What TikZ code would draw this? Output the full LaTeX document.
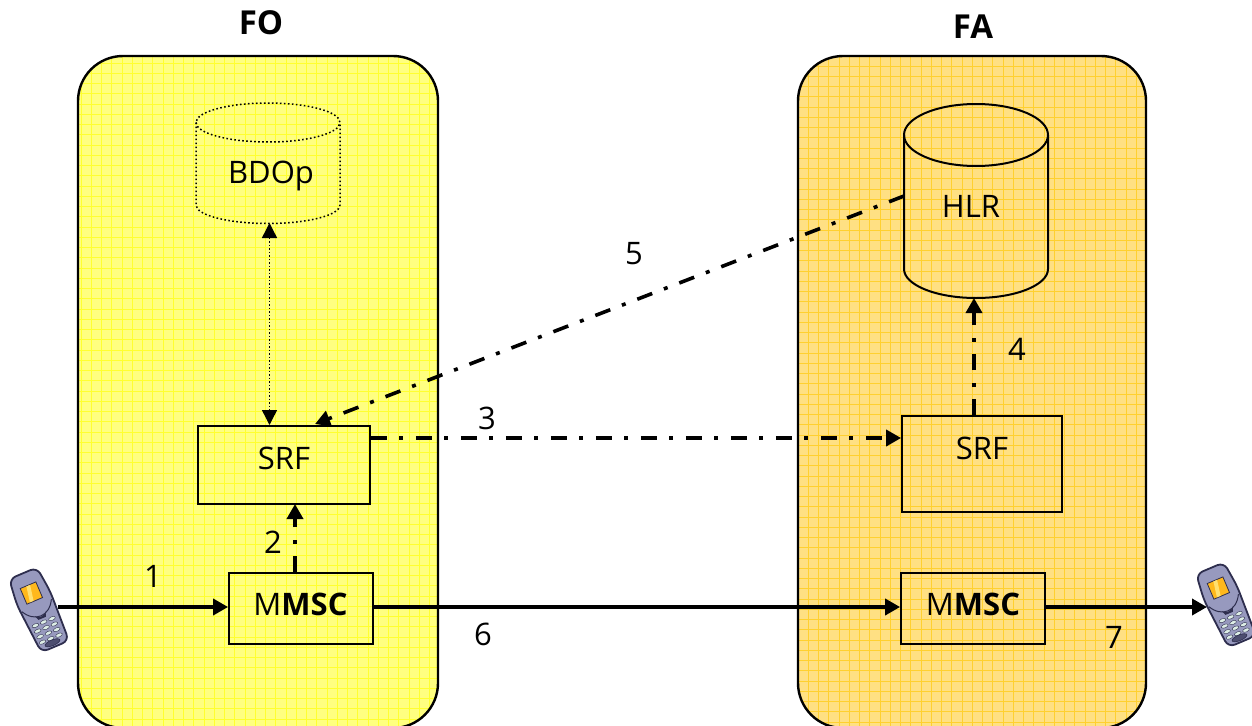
\documentclass[tikz,border=0pt]{standalone}
\usepackage{fontspec}
\setmainfont{Open Sans}
\usetikzlibrary{arrows.meta}
\definecolor{paneA}{HTML}{FFFF80}
\definecolor{gridA}{HTML}{FFFF30}
\definecolor{paneB}{HTML}{FFE083}
\definecolor{gridB}{HTML}{FFD030}
\definecolor{phonebody}{HTML}{9799BE}
\definecolor{phoneline}{HTML}{2E2E4E}
\definecolor{phonescr}{HTML}{FFB81C}
\definecolor{phonelite}{HTML}{FFE070}
\definecolor{phonekey}{HTML}{DDEEE6}
\tikzset{
  x=1pt,y=-1pt,
  panel/.style={draw=black,line width=2.4pt,rounded corners=45pt},
  box/.style={draw=black,line width=1.8pt,rectangle,inner sep=0pt},
  lbl/.style={font=\fontsize{31}{31}\selectfont,text=black,inner sep=0pt},
  ttl/.style={font=\fontsize{33}{33}\selectfont\bfseries,text=black,inner sep=0pt},
  flow/.style={line width=3.6pt,-{Triangle[length=15pt,width=16pt]}},
  dd/.style={flow,dash pattern=on 16pt off 12.5pt on 4pt off 12.5pt},
  lnk/.style={line width=1.4pt,dash pattern=on 1.5pt off 2pt,{Triangle[length=15pt,width=15pt]}-{Triangle[length=15pt,width=15pt]}},
  phone/.pic={
    \draw[phoneline,line width=1.8pt,fill=phonebody,rounded corners=7pt]
      (-15,-41) -- (15,-41) -- (18,-14) -- (16,39) -- (-14,39) -- (-18,-14) -- cycle;
    \draw[phoneline,line width=.8pt,fill=phonescr] (-8.5,-28) rectangle (8.5,-11);
    \fill[phonelite] (-2,-27.5) -- (2,-27.5) -- (-1,-11.5) -- (-5,-11.5) -- cycle;
    \draw[phoneline,line width=1pt] (-16,-6) .. controls (-8,9) and (8,9) .. (16,-6);
    \fill[phoneline] (-6,3) .. controls (-3,7) and (3,7) .. (6,3) -- (4,8) -- (-4,8) -- cycle;
    \foreach \r in {0,1,2,3}{\foreach \c in {-1,0,1}{
      \filldraw[draw=phoneline,fill=phonekey,line width=.4pt] (\c*9,12+\r*6) ellipse (3.6pt and 1.8pt);}}
    \filldraw[draw=phoneline,fill=phoneline!70!phonebody,line width=.6pt] (0,34.5) ellipse (8pt and 2.8pt);
  }
}
\begin{document}
\begin{tikzpicture}
\useasboundingbox (0,0) rectangle (1252,725);
\begin{scope}
\clip (0,0) rectangle (1252,725);
% panels
\begin{scope}
  \clip[rounded corners=45pt] (78,56) rectangle (438,728);
  \fill[paneA] (78,56) rectangle (438,728);
  \foreach \i in {0,...,35}{\draw[gridA,line width=.9pt] ({81+\i*10.25},56) -- ({81+\i*10.25},728);}
  \foreach \i in {0,...,66}{\draw[gridA,line width=.9pt] (78,{63+\i*10.25}) -- (438,{63+\i*10.25});}
\end{scope}
\begin{scope}
  \clip[rounded corners=45pt] (798,56) rectangle (1146,728);
  \fill[paneB] (798,56) rectangle (1146,728);
  \foreach \i in {0,...,34}{\draw[gridB,line width=.9pt] ({808.3+\i*10.25},56) -- ({808.3+\i*10.25},728);}
  \foreach \i in {0,...,66}{\draw[gridB,line width=.9pt] (798,{66+\i*10.25}) -- (1146,{66+\i*10.25});}
\end{scope}
\draw[panel] (78,56) rectangle (438,728);
\draw[panel] (798,56) rectangle (1146,728);
\end{scope}

\node[ttl] (fo) at (261,23) {FO};
\node[ttl] (fa) at (973,27) {FA};

% databases
\draw[black,line width=1.5pt,dash pattern=on 1.6pt off 2.4pt] (196,122.5) arc[start angle=180,end angle=-180,x radius=72,y radius=19.5];
\draw[black,line width=1.5pt,dash pattern=on 1.6pt off 2.4pt] (196,122.5) -- (196,205)
   arc[start angle=180,end angle=0,x radius=72,y radius=18.5] -- (340,122.5);
\draw[black,line width=2pt] (904,135) arc[start angle=180,end angle=-180,x radius=72,y radius=31];
\draw[black,line width=2pt] (904,135) -- (904,269) arc[start angle=180,end angle=0,x radius=72,y radius=29] -- (1048,135);
\node[lbl] (bdop) at (271,176) {BDOp};
\node[lbl] (hlr) at (971,206) {HLR};
\coordinate (bdopB) at (269.5,223);
\coordinate (hlrB) at (974,298);
\coordinate (hlrW) at (904,196);

% boxes
\node[box,minimum width=172pt,minimum height=78pt] (srfA) at (284,465) {};
\node[box,minimum width=160pt,minimum height=96pt] (srfB) at (982,464) {};
\node[box,minimum width=144pt,minimum height=71pt] (mscA) at (301,608.5) {};
\node[box,minimum width=144pt,minimum height=71pt] (mscB) at (973,608.5) {};
\node[lbl] (srfAt) at (284,458) {SRF};
\node[lbl] (srfBt) at (982,448) {SRF};
\node[lbl] (mscAt) at (300.5,604) {M\textbf{MSC}};
\node[lbl] (mscBt) at (973,604) {M\textbf{MSC}};

% phones
\pic at (39,611) [rotate=23] {phone};
\pic at (1226,606) [rotate=23] {phone};
\coordinate (phA) at (58,607);
\coordinate (phB) at (1207,607);

% connectors
\draw[flow] (phA) -- (mscA.west |- phA);
\draw[flow] (mscA.east |- phA) -- (mscB.west |- phA);
\draw[flow] (mscB.east |- phA) -- (phB);
\draw[dd] (295,572) -- (295,504);
\draw[dd] (srfA.east |- 0,438) -- (srfB.west |- 0,438);
\draw[dd] (974,415) -- (hlrB);
\draw[dd] (hlrW) -- (315,424);
\draw[lnk] (bdopB) -- (269.5,425);

% labels
\node[lbl] (n1) at (153,576) {1};
\node[lbl] (n2) at (273,542) {2};
\node[lbl] (n3) at (487,418) {3};
\node[lbl] (n4) at (1017,349) {4};
\node[lbl] (n5) at (634,254) {5};
\node[lbl] (n6) at (483,634) {6};
\node[lbl] (n7) at (1114,637) {7};
\end{tikzpicture}
\end{document}
